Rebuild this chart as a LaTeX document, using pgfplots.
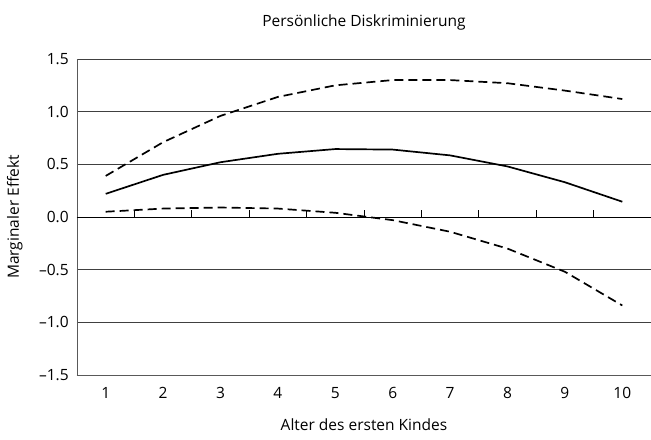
\documentclass[border=0pt]{standalone}
\usepackage{fontspec}
\setmainfont{Open Sans}
\usepackage{pgfplots}
\pgfplotsset{compat=1.18}
\begin{document}
\fontsize{15.5bp}{18bp}\selectfont
\begin{tikzpicture}
\begin{axis}[
  at={(0,0)}, anchor=south west,
  scale only axis,
  width=574bp, height=316bp,
  xmin=0.5, xmax=10.5,
  ymin=-1.5, ymax=1.5,
  axis x line*=bottom, axis y line*=left,
  axis line style={-, draw=black!65, line width=0.8pt},
  xtick={1,...,10},
  ytick={-1.5,-1,-0.5,0,0.5,1,1.5},
  yticklabels={–1.5,–1.0,–0.5,0.0,0.5,1.0,1.5},
  major tick length=0pt,
  xticklabel style={yshift=-7bp},
  yticklabel style={xshift=-3bp},
  ymajorgrids,
  grid style={black!75, line width=0.6pt},
  /pgf/number format/assume math mode=true,
  xticklabel={\pgfmathprintnumber[assume math mode=true]{\tick}},
  title={Persönliche Diskriminierung},
  title style={yshift=17bp},
  xlabel={Alter des ersten Kindes},
  ylabel={Marginaler Effekt},
  xlabel style={yshift=-9bp},
  ylabel style={yshift=6bp},
  clip=false,
]
\draw[black, line width=1pt] (axis cs:0.5,0) -- (axis cs:10.5,0);
\pgfplotsinvokeforeach{1.5,2.5,3.5,4.5,5.5,6.5,7.5,8.5,9.5}{
  \draw[black, line width=0.7pt] (axis cs:#1,0) -- ++(0pt,7bp);
}
\addplot[black, line width=1.7pt] coordinates {
(1,0.22) (2,0.40) (3,0.52) (4,0.60) (5,0.645) (6,0.64) (7,0.585) (8,0.48) (9,0.33) (10,0.145)};
\addplot[black, line width=1.7pt, dash pattern=on 9bp off 5bp] coordinates {
(1,0.39) (2,0.71) (3,0.96) (4,1.14) (5,1.25) (6,1.30) (7,1.30) (8,1.27) (9,1.20) (10,1.12)};
\addplot[black, line width=1.7pt, dash pattern=on 9bp off 5bp] coordinates {
(1,0.05) (2,0.08) (3,0.09) (4,0.08) (5,0.04) (6,-0.03) (7,-0.14) (8,-0.30) (9,-0.52) (10,-0.84)};
\end{axis}
\pgfresetboundingbox
\path[use as bounding box] (-77bp,-65bp) rectangle (574bp,375bp);
\end{tikzpicture}
\end{document}
